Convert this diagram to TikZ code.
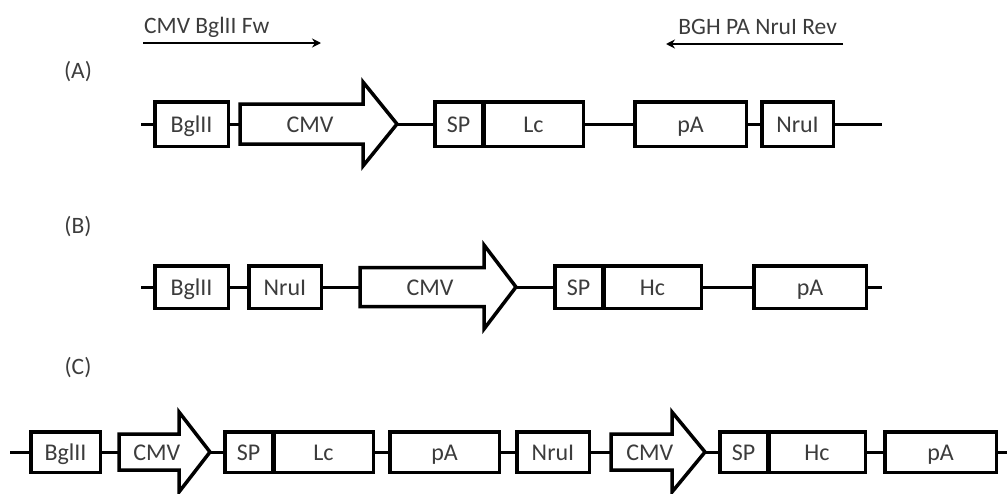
\documentclass[tikz,border=0pt]{standalone}
\usepackage{fontspec}
\setmainfont{Carlito}
\usetikzlibrary{arrows.meta}
\definecolor{txt}{HTML}{3C3C3C}
\tikzset{
  bb/.style={line width=3pt},
  gbox/.style={draw, line width=3.5pt, inner sep=0pt, text=txt, fill=white,
    text height=16pt, text depth=0pt, font=\fontsize{24}{28}\selectfont},
  lab/.style={text=txt, font=\fontsize{23.5}{28}\selectfont, inner sep=0pt},
  primer/.style={line width=2pt, -{Stealth[length=9pt,width=9pt]}},
  cmvshape/.style={draw, line width=3.5pt, line join=miter, fill=white},
}
\newcommand{\gbx}[6]{%
  \pgfmathsetmacro\gbcx{(#2+#3)/2}\pgfmathsetmacro\gbcy{(#4+#5)/2}%
  \pgfmathsetmacro\gbw{#3-#2-3.5}\pgfmathsetmacro\gbh{#5-#4-3.5}%
  \node[gbox, minimum width=\gbw pt, minimum height=\gbh pt] (#1) at (\gbcx,\gbcy) {#6};}
% name xl xh xt yc bh hh
\newcommand{\cmvarr}[7]{%
  \draw[cmvshape] (#2,{#5-#6}) -- (#3,{#5-#6}) -- (#3,{#5-#7}) -- (#4,#5) -- (#3,{#5+#7}) -- (#3,{#5+#6}) -- (#2,{#5+#6}) -- cycle;
  \coordinate (#1w) at (#2,#5);
  \coordinate (#1e) at (#4,#5);
  \node[lab, text height=16pt, text depth=0pt, font=\fontsize{24}{28}\selectfont] (#1) at ({(#2+#3)/2+(#4-#3)/4},#5) {CMV};}
\begin{document}
\begin{tikzpicture}[x=1pt,y=-1pt]
\useasboundingbox (0,0) rectangle (1007,493);
% primers
\node[lab, anchor=west] (fwt) at (144,27) {CMV BglII Fw};
\node[lab, anchor=east] (rvt) at (837,27) {BGH PA NruI Rev};
\coordinate (fw0) at (143,43); \coordinate (fw1) at (321,43);
\coordinate (rv0) at (843,44); \coordinate (rv1) at (666,44);
\draw[primer] (fw0) -- (fw1);
\draw[primer] (rv0) -- (rv1);
% panel labels
\node[lab] (la) at (78,72) {(A)};
\node[lab] (lb) at (78,227) {(B)};
\node[lab] (lc) at (78,368) {(C)};
% ---------- A ----------
\gbx{bglA}{153}{230}{100}{148}{BglII}
\cmvarr{cmvA}{240}{363}{397}{124}{20}{42}
\gbx{spA}{433}{484}{100}{148}{SP}
\gbx{lcA}{482}{585}{100}{148}{Lc}
\gbx{paA}{633}{748}{100}{148}{pA}
\gbx{nruA}{760}{835}{100}{148}{NruI}
\coordinate (a0) at (141,124); \coordinate (a1) at (882,124);
\draw[bb] (a0) -- (bglA.west);
\draw[bb] (bglA.east) -- (cmvAw);
\draw[bb] (cmvAe) -- (spA.west);
\draw[bb] (lcA.east) -- (paA.west);
\draw[bb] (paA.east) -- (nruA.west);
\draw[bb] (nruA.east) -- (a1);
% ---------- B ----------
\gbx{bglB}{153}{230}{264}{310}{BglII}
\gbx{nruB}{247}{323}{264}{310}{NruI}
\cmvarr{cmvB}{360}{484}{516}{287}{19.5}{42}
\gbx{spB}{553}{604}{264}{310}{SP}
\gbx{hcB}{602}{703}{264}{310}{Hc}
\gbx{paB}{752}{868}{264}{310}{pA}
\coordinate (b0) at (141,287); \coordinate (b1) at (882,287);
\draw[bb] (b0) -- (bglB.west);
\draw[bb] (bglB.east) -- (nruB.west);
\draw[bb] (nruB.east) -- (cmvBw);
\draw[bb] (cmvBe) -- (spB.west);
\draw[bb] (hcB.east) -- (paB.west);
\draw[bb] (paB.east) -- (b1);
% ---------- C ----------
\gbx{bglC}{29}{102}{430}{474}{BglII}
\cmvarr{cmvC}{119}{179}{210}{452}{18}{40}
\gbx{spC}{223}{274}{430}{474}{SP}
\gbx{lcC}{272}{375}{430}{474}{Lc}
\gbx{paC}{388}{501}{430}{474}{pA}
\gbx{nruC}{515}{591}{430}{474}{NruI}
\cmvarr{cmvD}{611}{672}{705}{452}{18}{40}
\gbx{spD}{718}{769}{430}{474}{SP}
\gbx{hcD}{767}{867}{430}{474}{Hc}
\gbx{paD}{883}{998}{430}{474}{pA}
\coordinate (c0) at (10,452); \coordinate (c1) at (1007,452);
\draw[bb] (c0) -- (bglC.west);
\draw[bb] (bglC.east) -- (cmvCw);
\draw[bb] (cmvCe) -- (spC.west);
\draw[bb] (lcC.east) -- (paC.west);
\draw[bb] (paC.east) -- (nruC.west);
\draw[bb] (nruC.east) -- (cmvDw);
\draw[bb] (cmvDe) -- (spD.west);
\draw[bb] (hcD.east) -- (paD.west);
\draw[bb] (paD.east) -- (c1);
\end{tikzpicture}
\end{document}
